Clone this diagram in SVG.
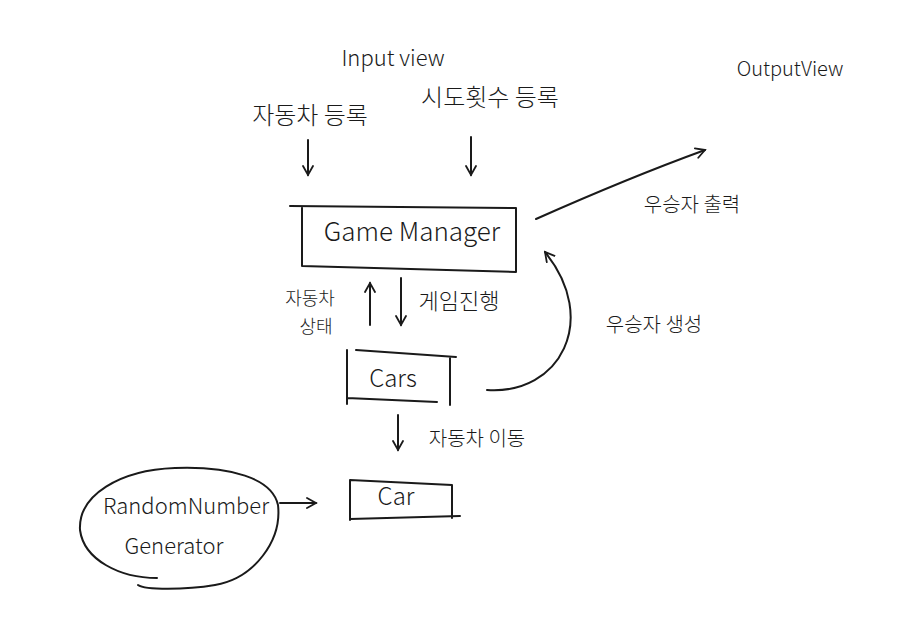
<svg xmlns="http://www.w3.org/2000/svg" width="901" height="628" viewBox="0 0 901 628">
<style>
.t{font-family:"Noto Sans CJK KR","Noto Sans",sans-serif;font-weight:300;fill:#1a1a1a}
.s{fill:none;stroke:#1a1a1a;stroke-width:2;stroke-linecap:round;stroke-linejoin:round}
</style>
<defs>
<marker id="ah" viewBox="0 0 12 12" refX="10" refY="6" markerWidth="12" markerHeight="12" markerUnits="userSpaceOnUse" orient="auto">
<path d="M1,1 L10,6 L1,11" fill="none" stroke="#1a1a1a" stroke-width="1.8" stroke-linecap="round"/>
</marker>
</defs>
<rect width="901" height="628" fill="#fff"/>
<text class="t" x="393" y="66" font-size="22" text-anchor="middle">Input view</text>
<text class="t" x="310" y="124" font-size="24" text-anchor="middle">자동차 등록</text>
<text class="t" x="490" y="106" font-size="24" text-anchor="middle">시도횟수 등록</text>
<text class="t" x="790" y="76" font-size="20" text-anchor="middle">OutputView</text>
<g id="gamemanager">
<path class="s" d="M290,206 L516,208 L516,272 L302,266 L302,207"/>
<text class="t" x="412" y="241" font-size="26" text-anchor="middle">Game Manager</text>
</g>
<g id="cars">
<path class="s" d="M356,350 L456,357 M450,357 L450,405 M347,398 L437,402 M347,350 L347,404"/>
<text class="t" x="393" y="387" font-size="24" text-anchor="middle">Cars</text>
</g>
<g id="car">
<path class="s" d="M350,480 L350,520 M350,480 L452,485 M452,485 L452,518 M350,519 L460,516"/>
<text class="t" x="396" y="505" font-size="24" text-anchor="middle">Car</text>
</g>
<g id="random">
<path class="s" d="M157,578 C120,578 84,560 80,530 C78,495 120,470 175,468 C230,466 272,478 278,505 C282,540 255,578 215,585 C185,590 145,590 138,585"/>
<text class="t" x="186" y="514" font-size="22" text-anchor="middle">RandomNumber</text>
<text class="t" x="174" y="554" font-size="22" text-anchor="middle">Generator</text>
</g>
<g id="connectors">
<path class="s" d="M308,140 L308,175" marker-end="url(#ah)"/>
<path class="s" d="M471,137 L471,175" marker-end="url(#ah)"/>
<path class="s" d="M536,219 C590,195 650,170 705,150" marker-end="url(#ah)"/>
<path class="s" d="M370,325 L370,283" marker-end="url(#ah)"/>
<path class="s" d="M401,278 L401,325" marker-end="url(#ah)"/>
<path class="s" d="M487,390 C560,395 600,320 545,252" marker-end="url(#ah)"/>
<path class="s" d="M398,415 L398,450" marker-end="url(#ah)"/>
<path class="s" d="M280,503 L316,503" marker-end="url(#ah)"/>
</g>
<text class="t" x="692" y="212" font-size="20" text-anchor="middle">우승자 출력</text>
<text class="t" x="310" y="305" font-size="18" text-anchor="middle">자동차</text>
<text class="t" x="316" y="333" font-size="18" text-anchor="middle">상태</text>
<text class="t" x="459" y="309" font-size="22" text-anchor="middle">게임진행</text>
<text class="t" x="654" y="332" font-size="20" text-anchor="middle">우승자 생성</text>
<text class="t" x="477" y="446" font-size="20" text-anchor="middle">자동차 이동</text>
</svg>
